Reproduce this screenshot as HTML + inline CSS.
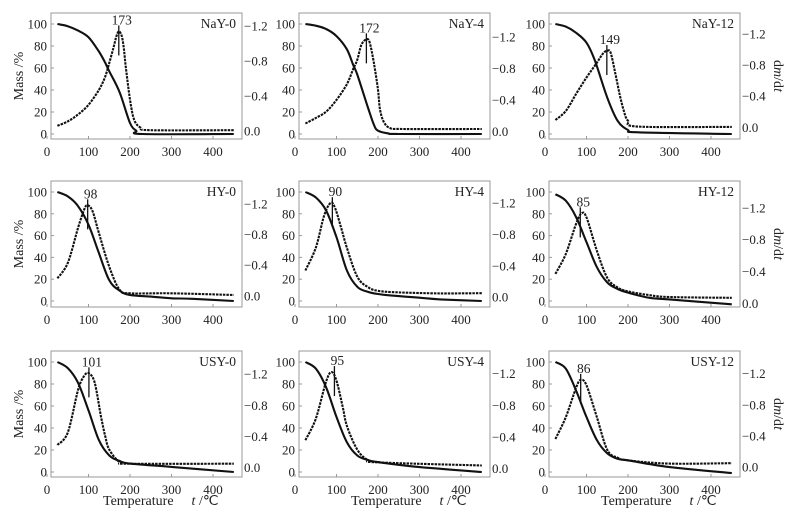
<!DOCTYPE html>
<html><head><meta charset="utf-8">
<style>
html,body{margin:0;padding:0;background:#fff;}
svg{display:block;font-family:"Liberation Serif",serif;}
</style></head>
<body>
<svg id="chart" width="805" height="521" viewBox="0 0 805 521" xmlns="http://www.w3.org/2000/svg"></svg>
<script>
// ---- data ----
const panelNames = ["NaY-0","NaY-4","NaY-12","HY-0","HY-4","HY-12","USY-0","USY-4","USY-12"];
const peakTemps = [173,172,149,98,90,85,101,95,86];
const xTicks = [0,100,200,300,400];
const massTicks = [0,20,40,60,80,100];
const dtgTicks = [0.0,0.4,0.8,1.2];
const dtgTickLabels = ["0.0","\u22120.4","\u22120.8","\u22121.2"];

const tgT_0 = [25,50,75,100,125,140,150,175,200,215,230,450];
const tg_0  = [100,98,94,88,75,65,57,38,10,3,0,0];
const dT_0 = [25,50,75,100,125,140,150,160,167,173,180,185,190,200,210,225,250,450];
const d_0  = [0.06,0.11,0.19,0.30,0.47,0.62,0.78,0.95,1.08,1.14,1.09,0.95,0.73,0.36,0.13,0.04,0.01,0.01];

const tgT_1 = [25,50,75,100,125,140,150,175,190,200,225,250,450];
const tg_1  = [100,98.5,95.5,89,77,63,54,25,8.5,3,0.5,0,0];
const dT_1 = [25,50,75,100,125,140,150,160,172,180,190,200,205,215,230,260,450];
const d_1  = [0.10,0.17,0.25,0.40,0.60,0.79,0.91,1.10,1.17,1.13,0.87,0.53,0.27,0.11,0.04,0.03,0.03];

const tgT_2 = [25,50,75,100,120,150,175,200,225,450];
const tg_2  = [100,97.6,92,83,67,33,12,3.6,1.5,0];
const dT_2 = [25,50,75,100,125,140,149,158,170,180,190,200,225,450];
const d_2  = [0.095,0.21,0.43,0.64,0.83,0.95,0.98,0.96,0.68,0.42,0.21,0.085,0.01,0.007];

const tgT_3 = [25,50,75,100,125,150,175,200,250,300,350,450];
const tg_3  = [100,96,87,70,44,19,9.5,5.5,4,2.5,2,0];
const dT_3 = [25,50,75,90,98,110,125,150,175,200,300,450];
const d_3  = [0.23,0.43,0.89,1.13,1.18,1.10,0.82,0.38,0.08,0.035,0.035,0.013];

const tgT_4 = [25,50,75,100,125,150,175,200,250,300,350,450];
const tg_4  = [100,95,83,58.5,28,13,8.5,6.4,4.5,3,1.5,0];
const dT_4 = [25,50,70,85,95,110,125,150,175,200,250,350,450];
const d_4  = [0.34,0.63,1.04,1.20,1.16,0.91,0.63,0.26,0.13,0.08,0.06,0.047,0.05];

const tgT_5 = [25,50,75,100,125,150,175,200,250,300,450];
const tg_5  = [98,92,77,54,31,17,11,7.7,3,1.5,-3];
const dT_5 = [25,50,75,88,100,125,150,175,200,250,300,450];
const d_5  = [0.37,0.62,1.0,1.13,1.08,0.66,0.32,0.20,0.15,0.105,0.08,0.07];

const tgT_6 = [25,50,75,100,125,150,175,200,300,450];
const tg_6  = [100,94.5,81,56,29,15,10,7.6,4.6,0];
const dT_6 = [25,50,75,90,101,115,130,140,150,175,200,450];
const d_6  = [0.29,0.45,1.0,1.18,1.21,1.09,0.66,0.41,0.23,0.07,0.05,0.05];

const tgT_7 = [25,50,75,100,125,150,175,200,300,450];
const tg_7  = [100,94,77,50,27,15,11,9,4.5,0];
const dT_7 = [25,50,75,88,100,115,125,150,175,200,450];
const d_7  = [0.36,0.63,1.10,1.22,1.11,0.78,0.54,0.24,0.11,0.08,0.04];

const tgT_8 = [25,50,75,100,125,150,175,200,300,450];
const tg_8  = [100,94,74,50,29,17,12,10.6,4.5,-1];
const dT_8 = [25,50,75,86,100,125,150,175,200,300,450];
const d_8  = [0.36,0.64,1.02,1.12,1.05,0.64,0.22,0.12,0.086,0.044,0.05];

const tgTs=[tgT_0,tgT_1,tgT_2,tgT_3,tgT_4,tgT_5,tgT_6,tgT_7,tgT_8];
const tgs=[tg_0,tg_1,tg_2,tg_3,tg_4,tg_5,tg_6,tg_7,tg_8];
const dTs=[dT_0,dT_1,dT_2,dT_3,dT_4,dT_5,dT_6,dT_7,dT_8];
const ds=[d_0,d_1,d_2,d_3,d_4,d_5,d_6,d_7,d_8];

// ---- layout ----
const colX0=[47,295,545], K=0.415;
const rowY0=[134,301,472], rowY100=[24,192,362];
const rowTop=[13,181,351], rowBot=[139,307,477];
const dtgM0=[2.7,2.4,6,4.6,3.6,-2.2,4,3,4.5];
const dtgM12=[98,88.2,91,89.2,89.7,85.5,89,89.4,89.4];

const svg=document.getElementById('chart');
const NS='http://www.w3.org/2000/svg';
function mk(tag,attrs,parent){const e=document.createElementNS(NS,tag);for(const k in attrs)e.setAttribute(k,attrs[k]);(parent||svg).appendChild(e);return e;}
function smooth(pts){let d='M'+pts[0][0].toFixed(1)+','+pts[0][1].toFixed(1);
 for(let i=0;i<pts.length-1;i++){const p0=pts[i-1]||pts[i],p1=pts[i],p2=pts[i+1],p3=pts[i+2]||p2;
  const c1=[p1[0]+(p2[0]-p0[0])/6,p1[1]+(p2[1]-p0[1])/6],c2=[p2[0]-(p3[0]-p1[0])/6,p2[1]-(p3[1]-p1[1])/6];
  d+=' C'+c1[0].toFixed(1)+','+c1[1].toFixed(1)+' '+c2[0].toFixed(1)+','+c2[1].toFixed(1)+' '+p2[0].toFixed(1)+','+p2[1].toFixed(1);}
 return d;}

for(let p=0;p<9;p++){
 const r=Math.floor(p/3), c=p%3;
 const x0=colX0[c], y0=rowY0[r], y100=rowY100[r];
 const X=t=>x0+K*t;
 const Y=m=>y0-(y0-y100)*m/100;
 const YD=v=>Y(dtgM0[p]+v/1.2*(dtgM12[p]-dtgM0[p]));
 const L=x0+4, R=x0+195, T=rowTop[r], B=rowBot[r];
 const g=mk('g',{});
 
 
 const fr=mk('rect',{x:L,y:T,width:R-L,height:B-T,fill:'none',stroke:'#999','stroke-width':1},g);
 
 
 for(let i=0;i<xTicks.length;i++){
  const t=mk('text',{x:X(xTicks[i]),y:B+17,'text-anchor':'middle','font-size':13,fill:'#222'},g);
  t.textContent=xTicks[i];
  
  
  mk('line',{x1:X(xTicks[i]),x2:X(xTicks[i]),y1:B,y2:B-3,stroke:'#999'},g);
 }
 for(let i=0;i<massTicks.length;i++){
  const t=mk('text',{x:L-4,y:Y(massTicks[i])+4.5,'text-anchor':'end','font-size':13,fill:'#222'},g);
  t.textContent=massTicks[i];
  
  
  mk('line',{x1:L,x2:L+3,y1:Y(massTicks[i]),y2:Y(massTicks[i]),stroke:'#999'},g);
 }
 for(let i=0;i<dtgTicks.length;i++){
  const t=mk('text',{x:R+2,y:YD(dtgTicks[i])+4.5,'font-size':13,fill:'#222'},g);
  t.textContent=dtgTickLabels[i];
  
  
 }
 const nm=mk('text',{x:R-6,y:T+15,'text-anchor':'end','font-size':13.5,fill:'#222'},g);
 nm.textContent=panelNames[p];
 
 
 const tp=tgTs[p].map((t,i)=>[X(t),Y(tgs[p][i])]);
 const tg=mk('path',{d:smooth(tp),fill:'none',stroke:'#111','stroke-width':2.1},g);
 
 
 const dp=dTs[p].map((t,i)=>[X(t),YD(ds[p][i])]);
 const dc=mk('path',{d:smooth(dp),fill:'none',stroke:'#111','stroke-width':2.1,'stroke-dasharray':'2.5,1'},g);
 
 
 const pk=Math.max(...ds[p]);
 const pl=mk('line',{x1:X(peakTemps[p]),x2:X(peakTemps[p]),y1:YD(pk)-6,y2:YD(pk)+24,stroke:'#111','stroke-width':1.3},g);
 
 
 const pt=mk('text',{x:X(peakTemps[p])+3,y:YD(pk)-7,'text-anchor':'middle','font-size':13.5,fill:'#222'},g);
 pt.textContent=peakTemps[p];
 
 
 if(c===0){
  const yt=mk('text',{x:0,y:0,'font-size':14,fill:'#222','text-anchor':'middle',transform:'translate(23,'+((T+B)/2)+') rotate(-90)'},g);
  yt.textContent='Mass /%';
  
  
 }
 if(c===2){
  const yt=mk('text',{x:0,y:0,'font-size':14,fill:'#222','text-anchor':'middle',transform:'translate(774,'+((T+B)/2)+') rotate(90)'},g);
  yt.innerHTML='d<tspan font-style="italic">m</tspan>/d<tspan font-style="italic">t</tspan>';
  
  
 }
 if(r===2){
  const xt=mk('text',{x:X(0)+56,y:505,'font-size':14,fill:'#222'},g);
  xt.innerHTML='Temperature<tspan dx="18" font-style="italic">t</tspan> /\u2103';
  
  
 }
}
</script>
</body></html>
